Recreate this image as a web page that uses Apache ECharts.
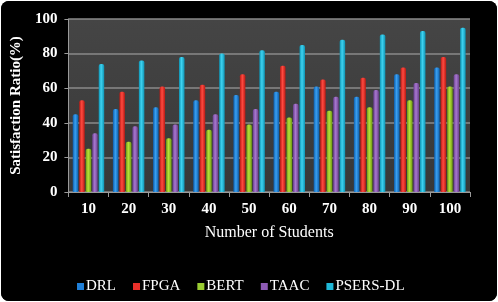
<!DOCTYPE html>
<html>
<head>
<meta charset="utf-8">
<script src="https://cdn.jsdelivr.net/npm/echarts@6/dist/echarts.min.js"></script>
<style>
  html, body { margin: 0; padding: 0; background: #ffffff; }
  #main { position: absolute; left: 1px; top: 1px; width: 496px; height: 300px; background: #000; border-radius: 8px; overflow: hidden; }
</style>
</head>
<body>
<div id="main"></div>
<script>
var categories = ['10', '20', '30', '40', '50', '60', '70', '80', '90', '100'];
var seriesNames = ['DRL', 'FPGA', 'BERT', 'TAAC', 'PSERS-DL'];
var drl    = [45, 48, 49, 53, 56, 58, 61, 55, 68, 72];
var fpga   = [53, 58, 61, 62, 68, 73, 65, 66, 72, 78];
var bert   = [25, 29, 31, 36, 39, 43, 47, 49, 53, 61];
var taac   = [34, 38, 39, 45, 48, 51, 55, 59, 63, 68];
var psers  = [74, 76, 78, 80, 82, 85, 88, 91, 93, 95];
var yTicks = [0, 20, 40, 60, 80, 100];

var allData = [drl, fpga, bert, taac, psers];
// edge / centre colours for the cylinder look
var colors = [
    ['#0d5fae', '#3aa0f0'],
    ['#b81a14', '#ff4a40'],
    ['#6f9a12', '#b6e03a'],
    ['#6a3f8e', '#a878cf'],
    ['#0d93b3', '#3fd2f0']
];
var legendColors = ['#1f7fd8', '#e8302a', '#9acd32', '#8e5bb5', '#1fb8d8'];

var myChart = echarts.init(document.getElementById('main'));

var series = [];
for (var i = 0; i < seriesNames.length; i++) {
    series.push({
        name: seriesNames[i],
        type: 'bar',
        data: allData[i],
        barWidth: 5.5,
        barGap: '18%',
        barCategoryGap: '22%',
        itemStyle: {
            color: new echarts.graphic.LinearGradient(0, 0, 1, 0, [
                {offset: 0, color: colors[i][0]},
                {offset: 0.45, color: colors[i][1]},
                {offset: 1, color: colors[i][0]}
            ]),
            borderRadius: [2, 2, 0, 0]
        }
    });
}

var option = {
    backgroundColor: '#000',
    animation: false,
    textStyle: { fontFamily: 'Liberation Serif' },
    grid: {
        left: 64, right: 27, top: 18, bottom: 109,
        show: true,
        backgroundColor: new echarts.graphic.LinearGradient(0, 0, 0, 1, [
            {offset: 0, color: '#454545'},
            {offset: 1, color: '#383838'}
        ]),
        borderWidth: 0
    },
    legend: {
        data: seriesNames.map(function (n, i) {
            return { name: n, itemStyle: { color: legendColors[i] } };
        }),
        bottom: 2,
        left: 71,
        icon: 'rect',
        itemWidth: 7,
        itemHeight: 7,
        itemGap: 17,
        textStyle: { color: '#ffffff', fontSize: 15, fontFamily: 'Liberation Serif', padding: [0, 0, 0, -3] }
    },
    xAxis: {
        type: 'category',
        data: categories,
        name: 'Number of Students',
        nameLocation: 'middle',
        nameGap: 33,
        nameTextStyle: { color: '#ffffff', fontSize: 16, fontFamily: 'Liberation Serif' },
        axisLine: { lineStyle: { color: '#9a9a9a' } },
        axisTick: { show: true, lineStyle: { color: '#9a9a9a' } },
        axisLabel: { color: '#ffffff', fontSize: 15, fontWeight: 'bold', margin: 10 }
    },
    yAxis: {
        type: 'value',
        min: yTicks[0],
        max: yTicks[yTicks.length - 1],
        interval: 20,
        name: 'Satisfaction Ratio(%)',
        nameLocation: 'middle',
        nameGap: 36,
        nameTextStyle: { color: '#ffffff', fontSize: 15, fontWeight: 'bold', fontFamily: 'Liberation Serif' },
        axisLine: { show: true, lineStyle: { color: '#9a9a9a' } },
        axisTick: { show: true, length: 4, lineStyle: { color: '#9a9a9a' } },
        axisLabel: { color: '#ffffff', fontSize: 15, fontWeight: 'bold', margin: 11 },
        splitLine: { lineStyle: { color: '#8a8a8a', width: 1.5 } }
    },
    series: series
};

myChart.setOption(option);
window.addEventListener('resize', function () {
    myChart.resize();
});
</script>
</body>
</html>
